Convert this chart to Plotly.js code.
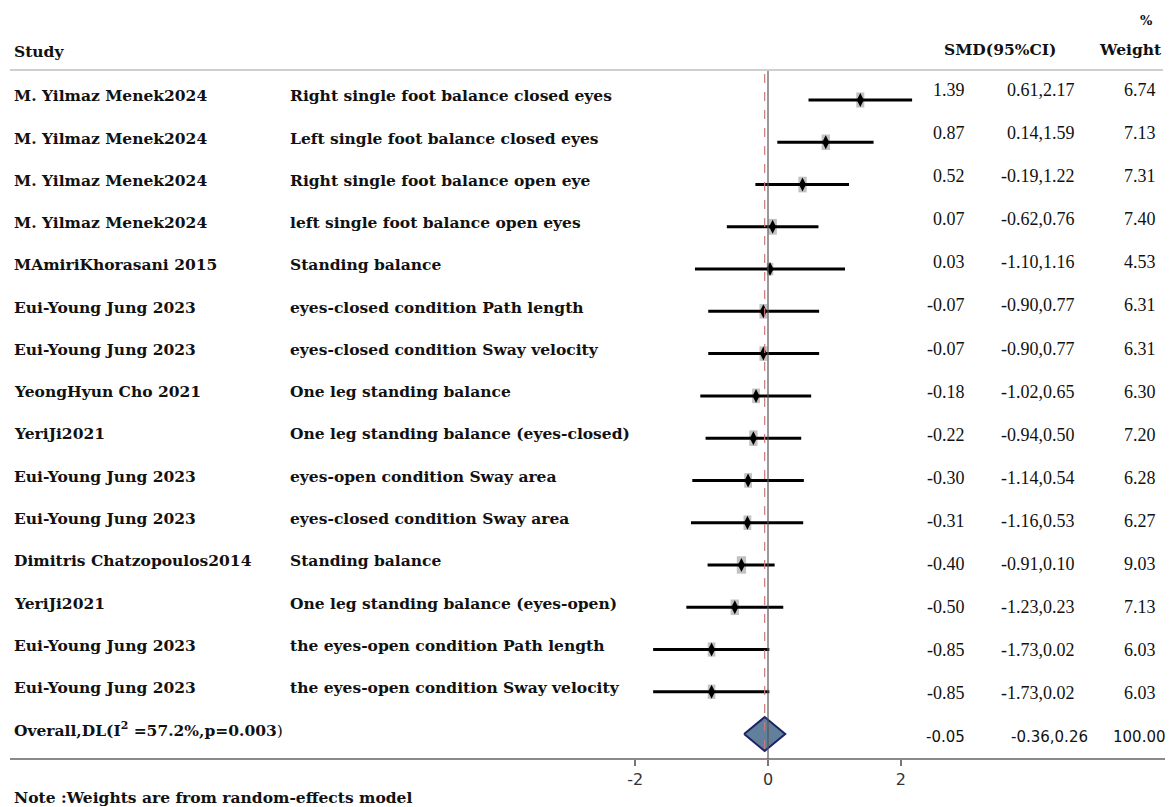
<!DOCTYPE html>
<html>
<head>
<meta charset="utf-8">
<script src="https://cdn.plot.ly/plotly-3.0.1.min.js"></script>
<style>html,body{margin:0;padding:0;background:#fff;}#chart{width:1174px;height:807px;}</style>
</head>
<body>
<div id="chart"></div>
<script>
// ---- data ----
const studies = ["M. Yilmaz Menek2024","M. Yilmaz Menek2024","M. Yilmaz Menek2024","M. Yilmaz Menek2024",
  "MAmiriKhorasani 2015","Eui-Young Jung 2023","Eui-Young Jung 2023","YeongHyun Cho 2021","YeriJi2021",
  "Eui-Young Jung 2023","Eui-Young Jung 2023","Dimitris Chatzopoulos2014","YeriJi2021",
  "Eui-Young Jung 2023","Eui-Young Jung 2023"];
const outcomes = ["Right single foot balance closed eyes","Left single foot balance closed eyes",
  "Right single foot balance open eye","left single foot balance open eyes","Standing balance",
  "eyes-closed condition Path length","eyes-closed condition Sway velocity","One leg standing balance",
  "One leg standing balance (eyes-closed)","eyes-open condition Sway area","eyes-closed condition Sway area",
  "Standing balance","One leg standing balance (eyes-open)","the eyes-open condition Path length",
  "the eyes-open condition Sway velocity"];
const smd   = [1.39,0.87,0.52,0.07,0.03,-0.07,-0.07,-0.18,-0.22,-0.30,-0.31,-0.40,-0.50,-0.85,-0.85];
const lower = [0.61,0.14,-0.19,-0.62,-1.10,-0.90,-0.90,-1.02,-0.94,-1.14,-1.16,-0.91,-1.23,-1.73,-1.73];
const upper = [2.17,1.59,1.22,0.76,1.16,0.77,0.77,0.65,0.50,0.54,0.53,0.10,0.23,0.02,0.02];
const weight= [6.74,7.13,7.31,7.40,4.53,6.31,6.31,6.30,7.20,6.28,6.27,9.03,7.13,6.03,6.03];
const overallLabel = "<b>Overall,DL(I<sup>2</sup> =57.2%,p=0.003</b>)";
const overallSMD = -0.05, overallLower = -0.36, overallUpper = 0.26, overallWeight = 100.00;
const tickValues = [-2, 0, 2];

// ---- geometry helpers (style only) ----
const W = 1174, H = 807;
const PX_PER_UNIT = 66.4, ZERO_PX = 768;
const ROW_PX = 42.27, TOP_ROW_PX = 100, PLOT_BOTTOM = 759;
const yTop = -TOP_ROW_PX / ROW_PX;
const yBottom = (PLOT_BOTTOM - TOP_ROW_PX) / ROW_PX;
const pxToRow = p => (p - TOP_ROW_PX) / ROW_PX;
const px = p => p / W;
const n = smd.length;
const rows = smd.map((_, i) => i);
const overallRow = n;

const serif = "DejaVu Serif";
const labelFont = {family: serif, size: 15.5, color: "#111"};
const numFont = {family: "Liberation Serif", size: 18, color: "#111"};
const textRowY = i => i - 0.10;
const numRowY = i => i * 1.02 - 0.24;

const traces = [];
// CI lines + point estimates
traces.push({
  type: "scatter", mode: "markers", x: smd, y: rows, hoverinfo: "skip",
  marker: {symbol: "diamond-tall", size: 10, color: "#000"},
  error_x: {type: "data", symmetric: false,
    array: upper.map((u, i) => u - smd[i]), arrayminus: smd.map((s, i) => s - lower[i]),
    width: 0, thickness: 3, color: "#000"},
  showlegend: false
});
// overall diamond
const dh = 17 / ROW_PX;
traces.push({
  type: "scatter", mode: "lines", fill: "toself", fillcolor: "#627f9c",
  x: [overallLower, overallSMD, overallUpper, overallSMD, overallLower],
  y: [overallRow, overallRow - dh, overallRow, overallRow + dh, overallRow],
  line: {color: "#1b2566", width: 2}, hoverinfo: "skip", showlegend: false
});

const shapes = [];
// weight boxes
weight.forEach((w, i) => {
  const hw = 1.55 * Math.sqrt(w) / PX_PER_UNIT;
  const hh = 2.9 * Math.sqrt(w) / ROW_PX;
  shapes.push({type: "rect", xref: "x", yref: "y", layer: "below",
    x0: smd[i] - hw, x1: smd[i] + hw, y0: i - hh, y1: i + hh,
    fillcolor: "#c2c2c2", line: {width: 0}});
});
// header rule
shapes.push({type: "line", xref: "paper", yref: "y", x0: px(10), x1: px(1163),
  y0: pxToRow(70), y1: pxToRow(70), line: {color: "#cfcfcf", width: 2}});
// bottom rule / axis line
shapes.push({type: "line", xref: "paper", yref: "paper", x0: px(10), x1: px(1165),
  y0: 0, y1: 0, line: {color: "#8a8a8a", width: 2}});
// null line
shapes.push({type: "line", xref: "x", yref: "y", x0: 0, x1: 0,
  y0: pxToRow(71), y1: yBottom, line: {color: "#555", width: 1.2}});
// overall estimate dashed line
shapes.push({type: "line", xref: "x", yref: "y", x0: overallSMD, x1: overallSMD,
  y0: pxToRow(74), y1: yBottom, line: {color: "#c77b7b", width: 1.2, dash: "dash"}});

const annotations = [];
const ann = (text, x, y, anchor, font, yref) => annotations.push({
  text, x, y, xref: "paper", yref: yref || "y", xanchor: anchor, yanchor: "middle",
  showarrow: false, font
});
const bold = s => "<b>" + s + "</b>";
// headers
ann(bold("Study"), px(12), pxToRow(51), "left", labelFont);
ann(bold("SMD(95%CI)"), px(1000), pxToRow(49), "center", labelFont);
ann(bold("Weight"), px(1164), pxToRow(49), "right", labelFont);
ann(bold("%"), px(1155), pxToRow(20), "right", {family: serif, size: 13, color: "#111"});
// rows
rows.forEach(i => {
  ann(bold(studies[i]), px(12), textRowY(i), "left", labelFont);
  ann(bold(outcomes[i]), px(288), textRowY(i), "left", labelFont);
  ann(smd[i].toFixed(2), px(967), numRowY(i), "right", numFont);
  ann(lower[i].toFixed(2) + "," + upper[i].toFixed(2), px(1077), numRowY(i), "right", numFont);
  ann(weight[i].toFixed(2), px(1158), numRowY(i), "right", numFont);
});
// overall
const sansNum = {family: "DejaVu Sans", size: 15, color: "#111"};
ann(overallLabel, px(12), textRowY(overallRow), "left", {family: serif, size: 15.5, color: "#111"});
ann(overallSMD.toFixed(2), px(967), numRowY(overallRow), "right", sansNum);
ann(overallLower.toFixed(2) + "," + overallUpper.toFixed(2), px(1090), numRowY(overallRow), "right", sansNum);
ann(overallWeight.toFixed(2), px(1168), numRowY(overallRow), "right", sansNum);
// note
ann(bold("Note :Weights are from random-effects model"), px(12), -(797 - PLOT_BOTTOM) / PLOT_BOTTOM, "left", labelFont, "paper");

const layout = {
  width: W, height: H,
  margin: {l: 0, r: 0, t: 0, b: H - PLOT_BOTTOM, pad: 0},
  paper_bgcolor: "#fff", plot_bgcolor: "#fff",
  xaxis: {range: [-ZERO_PX / PX_PER_UNIT, (W - ZERO_PX) / PX_PER_UNIT],
    tickvals: tickValues, ticktext: tickValues.map(String), ticks: "outside", ticklen: 6,
    tickcolor: "#777", tickwidth: 1.5, showline: false, zeroline: false, showgrid: false,
    tickfont: {family: "DejaVu Sans", size: 16, color: "#333"}, fixedrange: true},
  yaxis: {range: [yBottom, yTop], visible: false, showgrid: false, zeroline: false, fixedrange: true},
  shapes, annotations, showlegend: false
};
Plotly.newPlot("chart", traces, layout, {displayModeBar: false, staticPlot: true});
</script>
</body>
</html>
